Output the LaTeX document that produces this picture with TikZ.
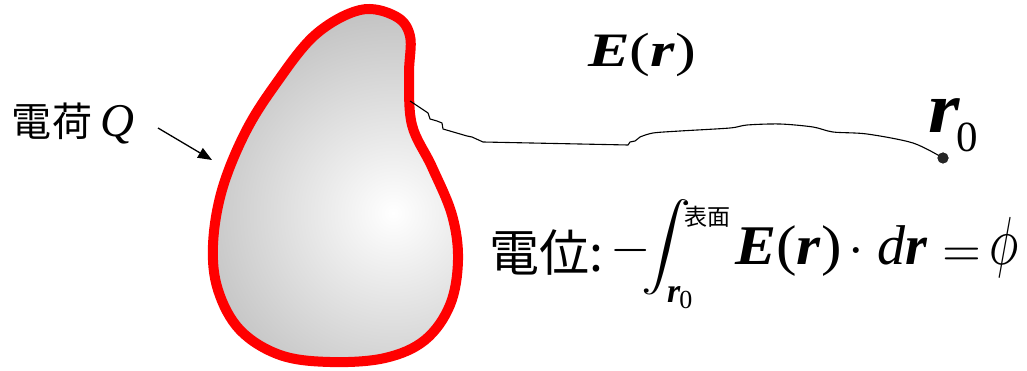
\documentclass[tikz,border=0pt]{standalone}
\usepackage[no-math]{fontspec}
\setmainfont{Liberation Serif}
\newfontfamily\cjk{Noto Sans CJK JP}
\usepackage{graphicx}
\usetikzlibrary{arrows.meta}
\newcommand\bi[1]{\textbf{\textit{#1}}}
\newcommand\fsz[1]{\fontsize{#1}{#1}\selectfont}
\newcommand\mth[2]{\scalebox{#1}{\fontsize{10}{12}\selectfont$#2$}}
\tikzset{
  lbl/.style={anchor=base west, inner sep=0pt, outer sep=0pt},
  blobstyle/.style={draw=red, line width=10pt, line join=round, fill=gray!50,
    path picture={\shade[inner color=white, outer color=gray!50] (393,213) circle (215);}},
  pathline/.style={line width=1.1pt, line join=round},
  pointer/.style={line width=1.3pt, -{Triangle[length=14pt,width=11pt]}},
  dotstyle/.style={circle, fill=black!85, minimum size=11pt, inner sep=0pt}
}
\begin{document}
\begin{tikzpicture}[x=1pt,y=-1pt]
\useasboundingbox (0,0) rectangle (1027,371);
% charged body
\path[blobstyle] plot[smooth cycle, tension=0.6] coordinates {
  (360,10) (395,16) (410,36) (409,75) (412,125) (432,167) (452,215) (458,260)
  (450,305) (425,340) (385,358) (330,362) (280,355) (240,330) (218,290)
  (213,245) (222,190) (245,133) (275,85) (315,35)};
% path from surface to r0
\coordinate (w0) at (410,101);
\node[dotstyle] (r0dot) at (943,158) {};
\draw[pathline] (w0) -- (428,113) -- (430,119) -- (437,121) -- (442,123) -- (443,129)
  -- (467,136) -- (472,137) -- (483,142) -- (628,145) -- (630,142) -- (635,141) -- (640,137)
  -- plot[smooth] coordinates {(640,137) (653,133) (680,131) (730,128) (747,125) (780,124)
  (813,127) (833,132) (867,134) (913,143) (r0dot.center)};
\node[dotstyle] at (r0dot.center) {};
% labels
\node[lbl, font=\cjk\fsz{40}] (charge) at (12,137) {電荷\hspace{9pt}{\normalfont\fsz{47}\itshape Q}};
\coordinate (qa) at (158,128);
\coordinate (qb) at (212,160);
\draw[pointer] (qa) -- (qb);
\node[lbl, font=\fsz{48}] (field) at (588,67) {\scalebox{1.3}[1]{\bi{E}(\bi{r})}};
\node[lbl, font=\fsz{72}] (r0) at (928,133) {\scalebox{1.12}[1]{\bi{r}}\kern-3pt\raisebox{-19pt}{\fsz{43}0}};
% formula
\node[lbl, font=\cjk\fsz{50}] (pot) at (489,271) {電位:};
\node[lbl] (minus) at (610,263) {\mth{5.2}{-}};
\node[anchor=center, inner sep=0pt] (integ) at (666,247) {\scalebox{5.0}[4.3]{\fontsize{10}{12}\selectfont$\displaystyle\int$}};
\node[lbl, font=\cjk\fsz{23}] (upper) at (684,225.5) {表面};
\node[lbl, font=\fsz{34}] (lower) at (667,302) {\bi{r}\kern-1pt\raisebox{-6pt}{\fsz{26}0}};
\node[lbl, font=\fsz{56}] (integrand) at (735,264) {\scalebox{1.1}[1]{\bi{E}(\bi{r})}};
\node[lbl] (dot) at (848,264) {\mth{5.6}{\cdot}};
\node[lbl, font=\fsz{56}] (dr) at (877,264) {\textit{d}\bi{r}};
\node[lbl] (eq) at (942,266) {\mth{5.0}{=}};
\node[lbl] (phi) at (989,264) {\scalebox{4.9}[6.8]{\fontsize{10}{12}\selectfont$\phi$}};
\end{tikzpicture}
\end{document}
